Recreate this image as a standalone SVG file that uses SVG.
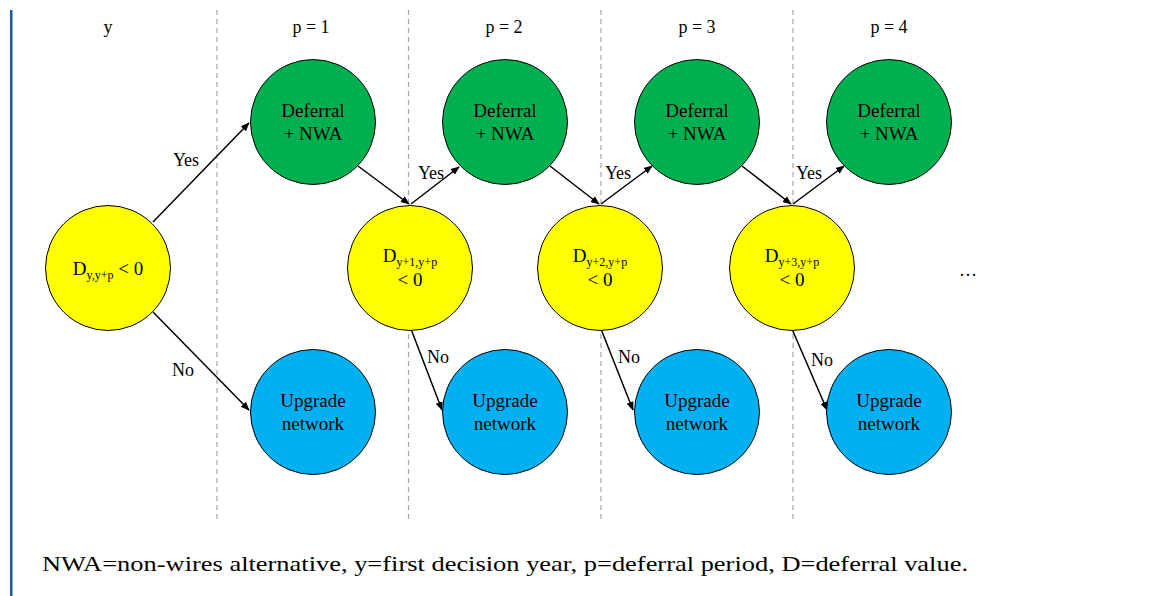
<svg xmlns="http://www.w3.org/2000/svg" width="1156" height="596" viewBox="0 0 1156 596">
<style>
text{font-family:"Liberation Serif","Times New Roman",serif;fill:#000}
.lbl{font-size:18px;text-anchor:middle}
.nd{font-size:19px;text-anchor:middle}
.sub{font-size:12px}
.yel{fill:#FFFF00;stroke:#000;stroke-width:1}
.grn{fill:#00B050;stroke:#000;stroke-width:1}
.blu{fill:#00B0F0;stroke:#000;stroke-width:1}
.dash{stroke:#A6A6A6;stroke-width:1.2;stroke-dasharray:5,4}
.edge{stroke:#000;stroke-width:1.5;fill:none;marker-end:url(#ah)}
</style>
<defs>
<marker id="ah" viewBox="0 0 10 10" refX="9" refY="5" markerWidth="6" markerHeight="6" markerUnits="strokeWidth" orient="auto">
<path d="M0,1 L10,5 L0,9 Z" fill="#000"/>
</marker>
</defs>
<rect x="0" y="0" width="1156" height="596" fill="#fff"/>
<rect x="10" y="10" width="2.5" height="586" fill="#1F5AA6"/>
<g id="dividers">
<line class="dash" x1="217" y1="10" x2="217" y2="522"/>
<line class="dash" x1="408.5" y1="10" x2="408.5" y2="522"/>
<line class="dash" x1="601" y1="10" x2="601" y2="522"/>
<line class="dash" x1="793" y1="10" x2="793" y2="522"/>
</g>
<g id="headers">
<text class="lbl" x="108" y="33">y</text>
<text class="lbl" x="311" y="33">p = 1</text>
<text class="lbl" x="504" y="33">p = 2</text>
<text class="lbl" x="697" y="33">p = 3</text>
<text class="lbl" x="889" y="33">p = 4</text>
</g>
<g id="connectors">
<line class="edge" x1="153" y1="222" x2="249" y2="123"/>
<line class="edge" x1="153" y1="312" x2="249" y2="410"/>
<line class="edge" x1="358" y1="166" x2="409" y2="204"/>
<line class="edge" x1="411" y1="204" x2="459" y2="167"/>
<line class="edge" x1="411" y1="329" x2="442" y2="410"/>
<line class="edge" x1="550" y1="166" x2="599" y2="204"/>
<line class="edge" x1="601" y1="204" x2="652" y2="166"/>
<line class="edge" x1="601" y1="329" x2="633" y2="410"/>
<line class="edge" x1="742" y1="166" x2="791" y2="204"/>
<line class="edge" x1="793" y1="204" x2="844" y2="166"/>
<line class="edge" x1="792" y1="329" x2="827" y2="410"/>
<text class="lbl" x="186" y="166">Yes</text>
<text class="lbl" x="183" y="376">No</text>
<text class="lbl" x="431" y="179">Yes</text>
<text class="lbl" x="438" y="363">No</text>
<text class="lbl" x="618" y="179">Yes</text>
<text class="lbl" x="629" y="363">No</text>
<text class="lbl" x="809" y="179">Yes</text>
<text class="lbl" x="822" y="366">No</text>
</g>
<g id="d0">
<circle class="yel" cx="108" cy="268" r="62.5"/>
<text class="nd" x="108" y="275">D<tspan class="sub" dy="4">y,y+p</tspan><tspan dy="-4"> &lt; 0</tspan></text>
</g>
<g id="g1">
<circle class="grn" cx="313" cy="122" r="62.5"/>
<text class="nd" x="313" y="117">Deferral</text>
<text class="nd" x="313" y="140">+ NWA</text>
</g>
<g id="u1">
<circle class="blu" cx="313" cy="412" r="62.5"/>
<text class="nd" x="313" y="407">Upgrade</text>
<text class="nd" x="313" y="430">network</text>
</g>
<g id="d1">
<circle class="yel" cx="410" cy="268" r="62.5"/>
<text class="nd" x="410" y="262">D<tspan class="sub" dy="3.5">y+1,y+p</tspan></text>
<text class="nd" x="410" y="286">&lt; 0</text>
</g>
<g id="g2">
<circle class="grn" cx="505" cy="122" r="62.5"/>
<text class="nd" x="505" y="117">Deferral</text>
<text class="nd" x="505" y="140">+ NWA</text>
</g>
<g id="u2">
<circle class="blu" cx="505" cy="412" r="62.5"/>
<text class="nd" x="505" y="407">Upgrade</text>
<text class="nd" x="505" y="430">network</text>
</g>
<g id="d2">
<circle class="yel" cx="600" cy="268" r="62.5"/>
<text class="nd" x="600" y="262">D<tspan class="sub" dy="3.5">y+2,y+p</tspan></text>
<text class="nd" x="600" y="286">&lt; 0</text>
</g>
<g id="g3">
<circle class="grn" cx="697" cy="122" r="62.5"/>
<text class="nd" x="697" y="117">Deferral</text>
<text class="nd" x="697" y="140">+ NWA</text>
</g>
<g id="u3">
<circle class="blu" cx="697" cy="412" r="62.5"/>
<text class="nd" x="697" y="407">Upgrade</text>
<text class="nd" x="697" y="430">network</text>
</g>
<g id="d3">
<circle class="yel" cx="792" cy="268" r="62.5"/>
<text class="nd" x="792" y="262">D<tspan class="sub" dy="3.5">y+3,y+p</tspan></text>
<text class="nd" x="792" y="286">&lt; 0</text>
</g>
<g id="g4">
<circle class="grn" cx="889" cy="122" r="62.5"/>
<text class="nd" x="889" y="117">Deferral</text>
<text class="nd" x="889" y="140">+ NWA</text>
</g>
<g id="u4">
<circle class="blu" cx="889" cy="412" r="62.5"/>
<text class="nd" x="889" y="407">Upgrade</text>
<text class="nd" x="889" y="430">network</text>
</g>
<g id="ellipsis">
<text class="lbl" x="968" y="276" font-size="14">…</text>
</g>
<text x="42" y="571" font-size="22" textLength="926" lengthAdjust="spacingAndGlyphs">NWA=non-wires alternative, y=first decision year, p=deferral period, D=deferral value.</text>
</svg>
